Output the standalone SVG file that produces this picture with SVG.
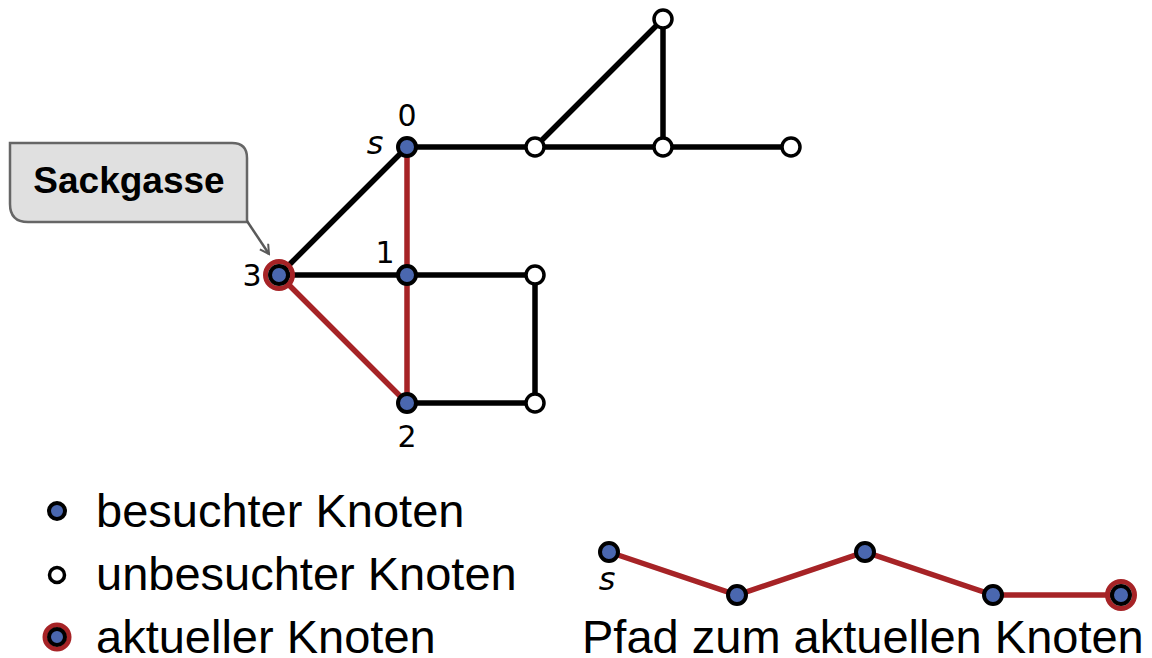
<svg xmlns="http://www.w3.org/2000/svg" width="1152" height="658" viewBox="0 0 1152 658">
<style>
.e{stroke:#000;stroke-width:5.5;fill:none}
.r{stroke:#a62326;stroke-width:5.5;fill:none}
.v{fill:#4a67af;stroke:#000;stroke-width:4}
.u{fill:#fff;stroke:#000;stroke-width:3.5}
.cur{fill:none;stroke:#a62326;stroke-width:5}
.lbl{font-family:"DejaVu Sans",sans-serif;font-size:30px;fill:#000;text-anchor:middle}
.s{font-family:"DejaVu Sans",sans-serif;font-style:italic;font-size:32px;fill:#000;text-anchor:middle}
.leg{font-family:"Liberation Sans",Arial,sans-serif;font-size:47px;fill:#000}
</style>
<defs>
<marker id="ah" viewBox="0 0 12 12" refX="10" refY="6" markerWidth="12" markerHeight="12" markerUnits="userSpaceOnUse" orient="auto">
<path d="M1,1 L10,6 L1,11" fill="none" stroke="#5a5a5a" stroke-width="2"/>
</marker>
</defs>
<rect width="1152" height="658" fill="#fff"/>
<g id="edges">
<line class="e" x1="407" y1="147" x2="791" y2="147"/>
<line class="e" x1="535" y1="147" x2="663" y2="19"/>
<line class="e" x1="663" y1="19" x2="663" y2="147"/>
<line class="e" x1="279" y1="275" x2="407" y2="147"/>
<line class="e" x1="279" y1="275" x2="535" y2="275"/>
<line class="e" x1="535" y1="275" x2="535" y2="403"/>
<line class="e" x1="407" y1="403" x2="535" y2="403"/>
<line class="r" x1="407" y1="147" x2="407" y2="403"/>
<line class="r" x1="279" y1="275" x2="407" y2="403"/>
</g>
<g id="callout">
<path d="M10,143 H232 Q247,143 247,158 V222 H28 Q10,222 10,204 Z" fill="#e0e0e0" stroke="#666" stroke-width="2.5"/>
<line x1="247" y1="221" x2="269" y2="254" stroke="#5a5a5a" stroke-width="2.5" marker-end="url(#ah)"/>
<text x="129" y="193" font-family="Liberation Sans,Arial,sans-serif" font-weight="bold" font-size="37" text-anchor="middle">Sackgasse</text>
</g>
<g id="n0"><circle class="v" cx="407" cy="147" r="9"/><text class="lbl" x="407" y="126">0</text><text class="s" x="375" y="154">s</text></g>
<g id="n1"><circle class="v" cx="407" cy="275" r="9"/><text class="lbl" x="385" y="263">1</text></g>
<g id="n2"><circle class="v" cx="407" cy="403" r="9"/><text class="lbl" x="407" y="447">2</text></g>
<g id="n3"><circle class="cur" cx="279" cy="275" r="13.5"/><circle class="v" cx="279" cy="275" r="9"/><text class="lbl" x="252" y="286">3</text></g>
<g id="na"><circle class="u" cx="535" cy="147" r="9"/></g>
<g id="nb"><circle class="u" cx="663" cy="147" r="9"/></g>
<g id="nc"><circle class="u" cx="791" cy="147" r="9"/></g>
<g id="nt"><circle class="u" cx="663" cy="19" r="9"/></g>
<g id="nd"><circle class="u" cx="535" cy="275" r="9"/></g>
<g id="ne"><circle class="u" cx="535" cy="403" r="9"/></g>
<g id="legend">
<circle class="v" cx="57" cy="511" r="8"/>
<text class="leg" x="96" y="527">besuchter Knoten</text>
<circle class="u" cx="57" cy="575" r="7.5"/>
<text class="leg" x="96" y="590">unbesuchter Knoten</text>
<circle class="cur" cx="57" cy="637" r="12"/><circle class="v" cx="57" cy="637" r="8"/>
<text class="leg" x="96" y="653">aktueller Knoten</text>
</g>
<g id="pathlegend">
<polyline class="r" points="609,552 737,595 865,552 993,595 1121,595"/>
<circle class="v" cx="609" cy="552" r="9"/>
<circle class="v" cx="737" cy="595" r="9"/>
<circle class="v" cx="865" cy="552" r="9"/>
<circle class="v" cx="993" cy="595" r="9"/>
<circle class="cur" cx="1121" cy="595" r="13.5"/><circle class="v" cx="1121" cy="595" r="9"/>
<text class="s" x="607" y="590">s</text>
<text class="leg" x="582" y="653">Pfad zum aktuellen Knoten</text>
</g>
</svg>
